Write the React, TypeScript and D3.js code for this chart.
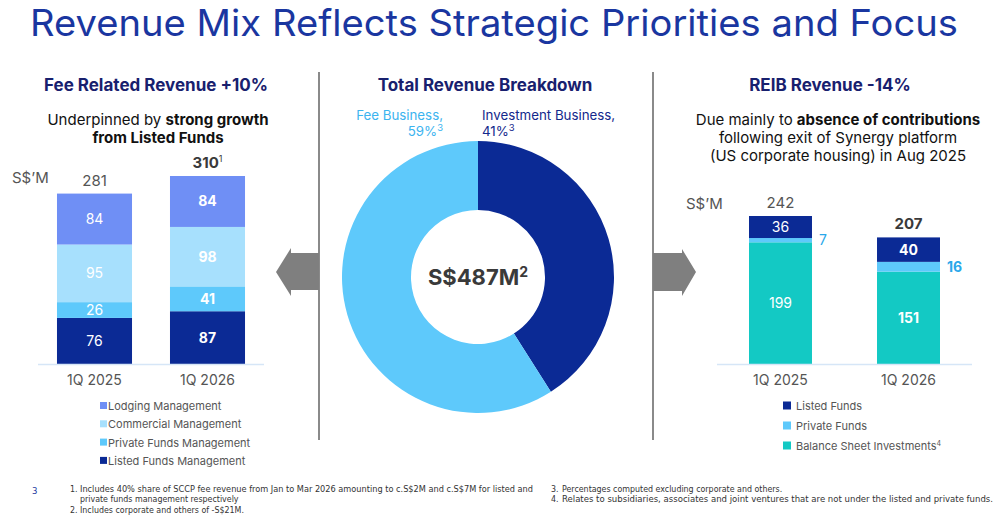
import * as d3 from 'd3';

// Fee related revenue (S$M), stacked bottom -> top
const feeCategories = ['1Q 2025', '1Q 2026'];
const feeKeys = ['Listed Funds Management', 'Private Funds Management', 'Commercial Management', 'Lodging Management'];
const feeListed = [76, 87];
const feePrivate = [26, 41];
const feeCommercial = [95, 98];
const feeLodging = [84, 84];
const feeTotals = ['281', '310'];

// REIB revenue (S$M), stacked bottom -> top
const reibCategories = ['1Q 2025', '1Q 2026'];
const reibKeys = ['Balance Sheet Investments', 'Private Funds', 'Listed Funds'];
const reibBalance = [199, 151];
const reibPrivate = [7, 16];
const reibListed = [36, 40];
const reibTotals = ['242', '207'];

// Total revenue split (%)
const mixLabels = ['Investment Business', 'Fee Business'];
const mixValues = [41, 59];

const FONT = 'Inter, "Noto Sans", sans-serif';
const NAVY = '#0b2a95';
const LIGHT = '#5ec9fb';
const feeColors: Record<string, string> = {
  'Listed Funds Management': NAVY,
  'Private Funds Management': LIGHT,
  'Commercial Management': '#a7e0fd',
  'Lodging Management': '#6f8ff5',
};
const reibColors: Record<string, string> = {
  'Balance Sheet Investments': '#13c9c4',
  'Private Funds': LIGHT,
  'Listed Funds': NAVY,
};

function FeeChart() {
  const rows = feeCategories.map((c, i) => ({
    cat: c,
    'Listed Funds Management': feeListed[i],
    'Private Funds Management': feePrivate[i],
    'Commercial Management': feeCommercial[i],
    'Lodging Management': feeLodging[i],
  }));
  const series = d3.stack<any>().keys(feeKeys)(rows);
  const x = d3.scaleBand().domain(feeCategories).range([38, 264]).paddingInner(0.336).paddingOuter(0.168);
  const y = d3.scaleLinear().domain([0, 310]).range([364, 176]);
  const legendOrder = [...feeKeys].reverse();
  return (
    <g>
      {series.map(s =>
        s.map((d, i) => {
          const cat = feeCategories[i];
          const h = y(d[0]) - y(d[1]);
          return (
            <g key={s.key + cat}>
              <rect x={x(cat)} y={y(d[1])} width={x.bandwidth()} height={h} fill={feeColors[s.key]} />
              <text x={x(cat)! + x.bandwidth() / 2} y={(y(d[0]) + y(d[1])) / 2 + 5} textAnchor="middle"
                fill="#fff" fontSize={14} fontWeight={i === 1 ? 700 : 400}>{d[1] - d[0]}</text>
            </g>
          );
        })
      )}
      <line x1={38} x2={264} y1={364.5} y2={364.5} stroke="#d6e6f7" strokeWidth={1.5} />
      {feeCategories.map((c, i) => {
        const top = series[series.length - 1][i][1];
        return (
          <g key={c}>
            <text x={x(c)! + x.bandwidth() / 2} y={385} textAnchor="middle" fill="#555" fontSize={14}>{c}</text>
            <text x={x(c)! + x.bandwidth() / 2} y={y(top) - 8} textAnchor="middle" fill={i === 1 ? '#3a3a3a' : '#555'}
              fontSize={15} fontWeight={i === 1 ? 700 : 400}>
              {feeTotals[i]}{i === 1 && <tspan dy={-6} fontSize={9} fontWeight={400}>1</tspan>}
            </text>
          </g>
        );
      })}
      <text x={12} y={183} fill="#555" fontSize={15}>S$’M</text>
      {legendOrder.map((k, i) => (
        <g key={k}>
          <rect x={100} y={402 + i * 18.3} width={7} height={7} fill={feeColors[k]} />
          <text x={108} y={410 + i * 18.3} fill="#555" fontSize={11}>{k}</text>
        </g>
      ))}
    </g>
  );
}

function ReibChart() {
  const rows = reibCategories.map((c, i) => ({
    cat: c,
    'Balance Sheet Investments': reibBalance[i],
    'Private Funds': reibPrivate[i],
    'Listed Funds': reibListed[i],
  }));
  const series = d3.stack<any>().keys(reibKeys)(rows);
  const x = d3.scaleBand().domain(reibCategories).range([717, 972]).paddingInner(0.508).paddingOuter(0.25);
  const y = d3.scaleLinear().domain([0, 242]).range([364, 216]);
  const legendOrder = [...reibKeys].reverse();
  return (
    <g>
      {series.map(s =>
        s.map((d, i) => {
          const cat = reibCategories[i];
          const h = y(d[0]) - y(d[1]);
          const mid = (y(d[0]) + y(d[1])) / 2 + 5;
          const outside = s.key === 'Private Funds';
          return (
            <g key={s.key + cat}>
              <rect x={x(cat)} y={y(d[1])} width={x.bandwidth()} height={h} fill={reibColors[s.key]} />
              {outside ? (
                <text x={x(cat)! + x.bandwidth() + 7} y={mid} fill="#2aa8ea" fontSize={14}
                  fontWeight={i === 1 ? 700 : 400}>{d[1] - d[0]}</text>
              ) : (
                <text x={x(cat)! + x.bandwidth() / 2} y={mid} textAnchor="middle" fill="#fff" fontSize={14}
                  fontWeight={i === 1 ? 700 : 400}>{d[1] - d[0]}</text>
              )}
            </g>
          );
        })
      )}
      <line x1={717} x2={972} y1={364.5} y2={364.5} stroke="#d6e6f7" strokeWidth={1.5} />
      {reibCategories.map((c, i) => {
        const top = series[series.length - 1][i][1];
        return (
          <g key={c}>
            <text x={x(c)! + x.bandwidth() / 2} y={385} textAnchor="middle" fill="#555" fontSize={14}>{c}</text>
            <text x={x(c)! + x.bandwidth() / 2} y={y(top) - 8} textAnchor="middle" fill={i === 1 ? '#3a3a3a' : '#555'}
              fontSize={15} fontWeight={i === 1 ? 700 : 400}>{reibTotals[i]}</text>
          </g>
        );
      })}
      <text x={686} y={209} fill="#555" fontSize={15}>S$’M</text>
      {legendOrder.map((k, i) => (
        <g key={k}>
          <rect x={783} y={401.5 + i * 20} width={8} height={8} fill={reibColors[k]} />
          <text x={796} y={410 + i * 20} fill="#555" fontSize={11}>
            {k}{k === 'Balance Sheet Investments' && <tspan dy={-4} fontSize={7}>4</tspan>}
          </text>
        </g>
      ))}
    </g>
  );
}

function Donut() {
  const cx = 478, cy = 277;
  const pie = d3.pie<number>().sort(null).value(d => d);
  const arc = d3.arc<d3.PieArcDatum<number>>().innerRadius(67).outerRadius(136);
  const arcs = pie(mixValues);
  const colors = [NAVY, LIGHT];
  return (
    <g>
      <g transform={`translate(${cx},${cy})`}>
        {arcs.map((a, i) => (
          <path key={mixLabels[i]} d={arc(a)!} fill={colors[i]} />
        ))}
      </g>
      <text x={cx} y={285} textAnchor="middle" fill="#3a3a3a" fontSize={22} fontWeight={700}>
        S$487M<tspan dy={-8} fontSize={14}>2</tspan>
      </text>
      <text x={443} y={120} textAnchor="end" fill="#3cb4ef" fontSize={13.3}>{mixLabels[1]},</text>
      <text x={443} y={136} textAnchor="end" fill="#3cb4ef" fontSize={13.3}>
        {mixValues[1]}%<tspan dy={-5} fontSize={9.5}>3</tspan>
      </text>
      <text x={482} y={120} fill="#13288c" fontSize={13.3}>{mixLabels[0]},</text>
      <text x={482} y={136} fill="#13288c" fontSize={13.3}>
        {mixValues[0]}%<tspan dy={-5} fontSize={9.5}>3</tspan>
      </text>
    </g>
  );
}

export default function App() {
  return (
    <svg width={1000} height={516} viewBox="0 0 1000 516" fontFamily={FONT}
      style={{ position: 'absolute', left: 0, top: 0, background: '#fff' }}>
      <rect width={1000} height={516} fill="#fff" />
      <text x={30} y={36} fill="#1a36a0" fontSize={37} textLength={928} lengthAdjust="spacingAndGlyphs">
        Revenue Mix Reflects Strategic Priorities and Focus
      </text>

      {/* panel headings */}
      <text x={156} y={91} textAnchor="middle" fill="#18206e" fontSize={17} fontWeight={700}>Fee Related Revenue +10%</text>
      <text x={485} y={91} textAnchor="middle" fill="#18206e" fontSize={17} fontWeight={700}>Total Revenue Breakdown</text>
      <text x={830} y={91} textAnchor="middle" fill="#18206e" fontSize={17} fontWeight={700}>REIB Revenue -14%</text>

      <text x={158} y={125} textAnchor="middle" fill="#111" fontSize={15}>
        Underpinned by <tspan fontWeight={700}>strong growth</tspan>
      </text>
      <text x={158} y={143} textAnchor="middle" fill="#111" fontSize={15} fontWeight={700}>from Listed Funds</text>

      <text x={838} y={125} textAnchor="middle" fill="#111" fontSize={15}>
        Due mainly to <tspan fontWeight={700}>absence of contributions</tspan>
      </text>
      <text x={838} y={143} textAnchor="middle" fill="#111" fontSize={15}>following exit of Synergy platform</text>
      <text x={838} y={161} textAnchor="middle" fill="#111" fontSize={15}>(US corporate housing) in Aug 2025</text>

      {/* dividers and arrows */}
      <line x1={319} x2={319} y1={72} y2={440} stroke="#8a8a8a" strokeWidth={2} />
      <line x1={653} x2={653} y1={72} y2={440} stroke="#8a8a8a" strokeWidth={2} />
      <path d="M319,253 L291,253 L291,248 L276,272 L291,296 L291,290 L319,290 Z" fill="#7f7f7f" />
      <path d="M653,253 L682,253 L682,249 L696,272 L682,296 L682,291 L653,291 Z" fill="#7f7f7f" />

      <FeeChart />
      <Donut />
      <ReibChart />

      {/* footnotes */}
      <g fontFamily='"Liberation Sans Narrow", "DejaVu Sans Condensed", sans-serif' fontSize={8.8} fill="#333">
        <text x={32} y={494} fill="#1a36a0" fontSize={9.5}>3</text>
        <text x={70} y={492}>1.</text>
        <text x={80} y={492} textLength={453} lengthAdjust="spacingAndGlyphs">Includes 40% share of SCCP fee revenue from Jan to Mar 2026 amounting to c.S$2M and c.S$7M for listed and</text>
        <text x={80} y={502}>private funds management respectively</text>
        <text x={70} y={513}>2.</text>
        <text x={80} y={513}>Includes corporate and others of -S$21M.</text>
        <text x={551} y={492}>3.</text>
        <text x={562} y={492}>Percentages computed excluding corporate and others.</text>
        <text x={551} y={502}>4.</text>
        <text x={562} y={502} textLength={431} lengthAdjust="spacingAndGlyphs">Relates to subsidiaries, associates and joint ventures that are not under the listed and private funds.</text>
      </g>
    </svg>
  );
}
